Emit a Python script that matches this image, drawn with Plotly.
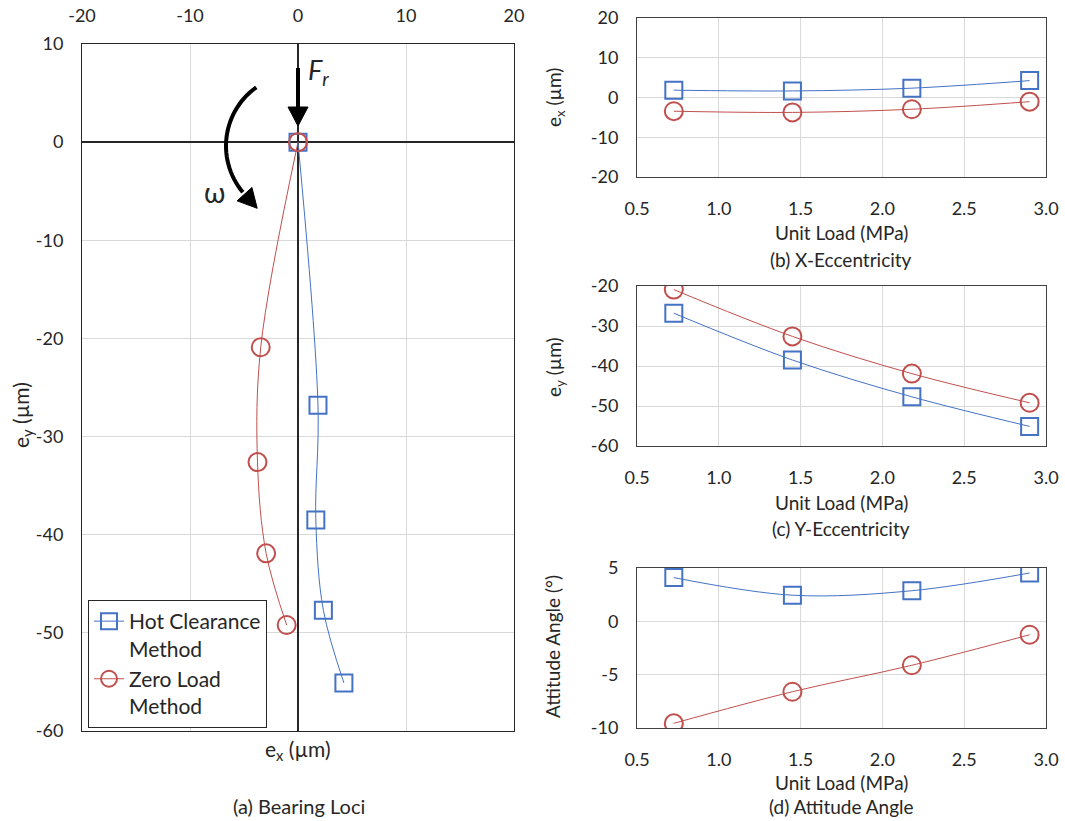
import math
import plotly.graph_objects as go

W, H = 1065, 821

# ---------------- data ----------------
unit_load = [0.725, 1.45, 2.18, 2.90]
hot_ex = [1.85, 1.65, 2.35, 4.25]
hot_ey = [-26.8, -38.5, -47.7, -55.1]
zero_ex = [-3.45, -3.75, -2.95, -1.05]
zero_ey = [-20.9, -32.6, -41.9, -49.2]
hot_att = [4.1, 2.45, 2.87, 4.53]
zero_att = [-9.56, -6.6, -4.12, -1.26]
origin_ex = [0.0]
origin_ey = [0.0]

loci_x_ticks = [-20, -10, 0, 10, 20]
loci_x_labels = ["-20", "-10", "0", "10", "20"]
loci_y_ticks = [10, 0, -10, -20, -30, -40, -50, -60]
loci_y_labels = ["10", "0", "-10", "-20", "-30", "-40", "-50", "-60"]
load_ticks = [0.5, 1.0, 1.5, 2.0, 2.5, 3.0]
load_labels = ["0.5", "1.0", "1.5", "2.0", "2.5", "3.0"]
ex_ticks = [20, 10, 0, -10, -20]
ex_labels = ["20", "10", "0", "-10", "-20"]
ey_ticks = [-20, -30, -40, -50, -60]
ey_labels = ["-20", "-30", "-40", "-50", "-60"]
att_ticks = [5, 0, -5, -10]
att_labels = ["5", "0", "-5", "-10"]

BLUE = "#4472C4"
RED = "#C0504D"
GRID = "#D9D9D9"
FONT = "Lato"
TXT = "#262626"


def px(x):
    return x / W


def py(y):
    return 1 - y / H


fig = go.Figure()

sq = dict(symbol="square-open", size=17, line=dict(width=2, color=BLUE), color=BLUE)
ci = dict(symbol="circle-open", size=18, line=dict(width=2, color=RED), color=RED)

# (a) bearing loci
fig.add_trace(go.Scatter(x=origin_ex + hot_ex, y=origin_ey + hot_ey, mode="lines+markers",
                         name="Hot Clearance<br>Method", line=dict(color=BLUE, width=1, shape="spline"),
                         marker=sq, xaxis="x", yaxis="y"))
fig.add_trace(go.Scatter(x=origin_ex + zero_ex, y=origin_ey + zero_ey, mode="lines+markers",
                         name="Zero Load<br>Method", line=dict(color=RED, width=1, shape="spline"),
                         marker=ci, xaxis="x", yaxis="y"))

# (b) x-eccentricity
fig.add_trace(go.Scatter(x=unit_load, y=hot_ex, mode="lines+markers", showlegend=False,
                         line=dict(color=BLUE, width=1, shape="spline"), marker=sq, xaxis="x2", yaxis="y2"))
fig.add_trace(go.Scatter(x=unit_load, y=zero_ex, mode="lines+markers", showlegend=False,
                         line=dict(color=RED, width=1, shape="spline"), marker=ci, xaxis="x2", yaxis="y2"))
# (c) y-eccentricity
fig.add_trace(go.Scatter(x=unit_load, y=hot_ey, mode="lines+markers", showlegend=False,
                         line=dict(color=BLUE, width=1, shape="spline"), marker=sq, xaxis="x3", yaxis="y3"))
fig.add_trace(go.Scatter(x=unit_load, y=zero_ey, mode="lines+markers", showlegend=False,
                         line=dict(color=RED, width=1, shape="spline"), marker=ci, xaxis="x3", yaxis="y3"))
# (d) attitude angle
fig.add_trace(go.Scatter(x=unit_load, y=hot_att, mode="lines+markers", showlegend=False,
                         line=dict(color=BLUE, width=1, shape="spline"), marker=sq, xaxis="x4", yaxis="y4"))
fig.add_trace(go.Scatter(x=unit_load, y=zero_att, mode="lines+markers", showlegend=False,
                         line=dict(color=RED, width=1, shape="spline"), marker=ci, xaxis="x4", yaxis="y4"))

tickfont = dict(family=FONT, size=18, color=TXT)
RX0, RX1 = 637, 1046


def right_x(anchor):
    return dict(domain=[px(RX0), px(RX1)], anchor=anchor, range=[0.5, 3.0], automargin=False,
                tickvals=load_ticks, ticktext=load_labels, showgrid=True, gridcolor=GRID,
                showline=True, mirror=True, linecolor="#404040", linewidth=1, zeroline=False,
                ticks="outside", ticklen=15, tickcolor="rgba(0,0,0,0)", tickfont=tickfont)


def right_y(anchor, top, bottom, rng, tv, tt):
    return dict(domain=[py(bottom), py(top)], anchor=anchor, range=rng, automargin=False,
                tickvals=tv, ticktext=tt, showgrid=True, gridcolor=GRID,
                showline=True, mirror=True, linecolor="#404040", linewidth=1, zeroline=False,
                ticks="outside", ticklen=14, tickcolor="rgba(0,0,0,0)", tickfont=tickfont)


B = (18, 177)
C = (286, 446)
D = (568, 728)

fig.update_layout(
    width=W, height=H, autosize=False,
    margin=dict(l=0, r=0, t=0, b=0, pad=0),
    paper_bgcolor="white", plot_bgcolor="white",
    font=dict(family=FONT, color=TXT),
    xaxis=dict(domain=[px(82), px(514)], anchor="y", side="top", range=[-20, 20], automargin=False,
               tickvals=loci_x_ticks, ticktext=loci_x_labels, showgrid=True, gridcolor=GRID,
               zeroline=True, zerolinecolor=TXT, zerolinewidth=1.5,
               showline=True, mirror=True, linecolor=TXT, linewidth=1,
               ticks="outside", ticklen=14, tickcolor="rgba(0,0,0,0)", tickfont=tickfont),
    yaxis=dict(domain=[py(731), py(44)], anchor="x", range=[-60, 10], automargin=False,
               tickvals=loci_y_ticks, ticktext=loci_y_labels, showgrid=True, gridcolor=GRID,
               zeroline=True, zerolinecolor=TXT, zerolinewidth=1.5,
               showline=True, mirror=True, linecolor=TXT, linewidth=1,
               ticks="outside", ticklen=14, tickcolor="rgba(0,0,0,0)", tickfont=tickfont),
    xaxis2=right_x("y2"),
    yaxis2=right_y("x2", *B, [-20, 20], ex_ticks, ex_labels),
    xaxis3=right_x("y3"),
    yaxis3=right_y("x3", *C, [-60, -20], ey_ticks, ey_labels),
    xaxis4=right_x("y4"),
    yaxis4=right_y("x4", *D, [-10, 5], att_ticks, att_labels),
    legend=dict(x=px(88), y=py(600), xanchor="left", yanchor="top",
                bgcolor="white", bordercolor=TXT, borderwidth=1, itemwidth=30,
                font=dict(family=FONT, size=21, color=TXT), valign="top",
                tracegroupgap=4),
    showlegend=True,
)

ann = []


def text(x, y, s, size=17, angle=0):
    ann.append(dict(x=px(x), y=py(y), xref="paper", yref="paper", text=s, showarrow=False,
                    textangle=angle, xanchor="center", yanchor="middle",
                    font=dict(family=FONT, size=size, color=TXT)))


RC = (RX0 + RX1) / 2
# (a) titles
text(298, 750, "e<sub>x</sub> (µm)", 21)
text(22, 415, "e<sub>y</sub> (µm)", 21, -90)
text(299, 806, "(a) Bearing Loci", 20)
# (b)
text(RC, 233, "Unit Load (MPa)", 19)
text(RC, 259, "(b) X-Eccentricity", 19)
text(555, 98, "e<sub>x</sub> (µm)", 19, -90)
# (c)
text(RC, 502, "Unit Load (MPa)", 19)
text(RC, 528, "(c) Y-Eccentricity", 19)
text(555, 367, "e<sub>y</sub> (µm)", 19, -90)
# (d)
text(RC, 782, "Unit Load (MPa)", 19)
text(RC, 806, "(d) Attitude Angle", 19)
text(552, 647, "Attitude Angle (°)", 19, -90)
# symbols
text(214, 192, "ω", 28)
text(318, 72, "<i>F<sub>r</sub></i>", 27)
fig.update_layout(annotations=ann)

# decorations: force arrow and rotation arrow
shapes = []
shapes.append(dict(type="line", xref="paper", yref="paper", x0=px(298), y0=py(68), x1=px(298), y1=py(110),
                   line=dict(color="black", width=4)))
shapes.append(dict(type="path", xref="paper", yref="paper",
                   path=f"M {px(288)},{py(107)} L {px(308)},{py(107)} L {px(298)},{py(126)} Z",
                   fillcolor="black", line=dict(color="black", width=1)))
cx, cy, r = 298, 146, 72
pts = []
a0, a1 = 234.6, 140.0
n = 30
for i in range(n + 1):
    a = math.radians(a0 + (a1 - a0) * i / n)
    pts.append((cx + r * math.cos(a), cy + r * math.sin(a)))
path = "M " + " L ".join(f"{px(x)},{py(y)}" for x, y in pts)
shapes.append(dict(type="path", xref="paper", yref="paper", path=path,
                   line=dict(color="black", width=4)))
ae = math.radians(138.0)
ex_, ey_ = cx + r * math.cos(ae), cy + r * math.sin(ae)
dx, dy = math.sin(ae), -math.cos(ae)
nx, ny = -dy, dx
tip = (ex_ + 19 * dx, ey_ + 19 * dy)
b1 = (ex_ + 10 * nx, ey_ + 10 * ny)
b2 = (ex_ - 10 * nx, ey_ - 10 * ny)
shapes.append(dict(type="path", xref="paper", yref="paper",
                   path=f"M {px(b1[0])},{py(b1[1])} L {px(tip[0])},{py(tip[1])} L {px(b2[0])},{py(b2[1])} Z",
                   fillcolor="black", line=dict(color="black", width=1)))
fig.update_layout(shapes=shapes)

fig.write_html("out.html")
